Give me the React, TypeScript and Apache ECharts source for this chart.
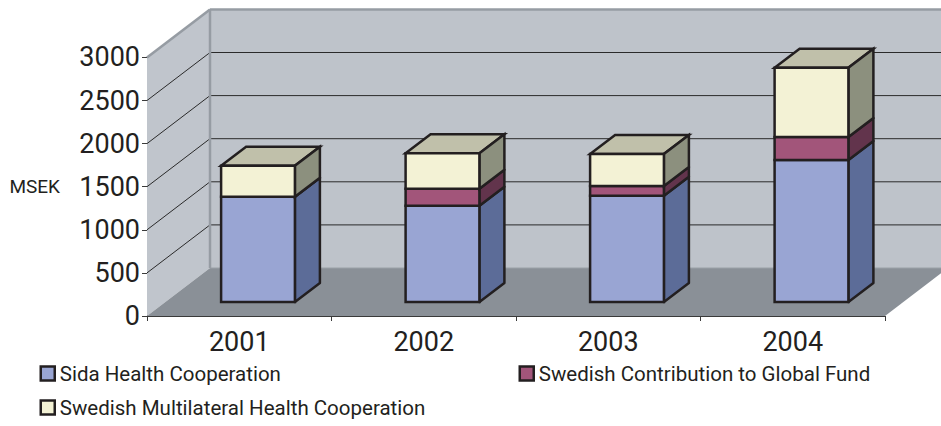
import React, { useEffect, useRef } from "react";
import * as echarts from "echarts";

const years = ["2001", "2002", "2003", "2004"];
const sidaHealth = [1222, 1117, 1233, 1647];
const globalFund = [0, 197, 113, 267];
const multilateral = [359, 411, 371, 804];
const yTicks = [500, 1000, 1500, 2000, 2500];

const FONT = "Roboto, 'Liberation Sans', sans-serif";
const INK = "#231f20";
// oblique projection constants of the pseudo-3D plot
const WALL_DX = 63;
const WALL_DY = 48;
const BAR_OFFSET_X = 18.75;
const BAR_OFFSET_Y = 14;
const BAR_DX = 25;
const BAR_DY = 19;

const names = [
  "Sida Health Cooperation",
  "Swedish Contribution to Global Fund",
  "Swedish Multilateral Health Cooperation",
];
const palette = [
  { front: "#99a5d3", side: "#5c6c98", top: "#7f8ab0" },
  { front: "#a2557a", side: "#62344c", top: "#7d4560" },
  { front: "#f3f2d5", side: "#8c907e", top: "#c0c0aa" },
];

function poly(points: number[][], fill: string, stroke?: string, lineWidth = 0, lineJoin = "miter") {
  return {
    type: "polygon",
    shape: { points },
    style: { fill, stroke: stroke || "none", lineWidth, lineJoin },
  };
}
function seg(a: number[], b: number[], stroke: string, lineWidth: number) {
  return {
    type: "line",
    shape: { x1: a[0], y1: a[1], x2: b[0], y2: b[1] },
    style: { stroke, lineWidth },
  };
}

function renderWalls(params: any, api: any) {
  const cs = params.coordSys;
  const l = cs.x;
  const r = cs.x + cs.width;
  const t = cs.y;
  const b = cs.y + cs.height;
  const edge = "#969ca3";
  const wall = "#bec3ca";
  const children: any[] = [
    poly([[l, b], [l, t], [l + WALL_DX, t - WALL_DY], [l + WALL_DX, b - WALL_DY]], "#c0c5cc"),
    poly([[l + WALL_DX, t - WALL_DY], [r + WALL_DX, t - WALL_DY], [r + WALL_DX, b - WALL_DY], [l + WALL_DX, b - WALL_DY]], wall),
    poly([[l, b], [r, b], [r + WALL_DX, b - WALL_DY], [l + WALL_DX, b - WALL_DY]], "#8a9097"),
    seg([l + WALL_DX, b - WALL_DY], [r + WALL_DX, b - WALL_DY], "#9aa0a7", 1),
  ];
  yTicks.forEach((v) => {
    const y = api.coord([0, v])[1];
    children.push(seg([l, y], [l + WALL_DX, y - WALL_DY], "#2a2a2a", 1));
    children.push(seg([l + WALL_DX, y - WALL_DY], [r + WALL_DX, y - WALL_DY], "#2a2a2a", 1));
  });
  children.push(seg([l, t], [l + WALL_DX, t - WALL_DY], edge, 2.5));
  children.push(seg([l + WALL_DX, t - WALL_DY], [r + WALL_DX, t - WALL_DY], edge, 2.5));
  children.push(seg([l + WALL_DX, t - WALL_DY], [l + WALL_DX, b - WALL_DY], edge, 2.5));
  return { type: "group", children };
}

function renderBar(colors: { front: string; side: string; top: string }, isTop: boolean) {
  return (_params: any, api: any) => {
    const cat = api.value(0);
    const start = api.value(1);
    const end = api.value(2);
    const w = api.size([1, 0])[0] / 2.5;
    const p0 = api.coord([cat, start]);
    const p1 = api.coord([cat, end]);
    const x0 = p0[0] + BAR_OFFSET_X - w / 2;
    const x1 = x0 + w;
    const yb = p0[1] - BAR_OFFSET_Y;
    const yt = p1[1] - BAR_OFFSET_Y;
    const s = { stroke: INK, w: 2.5 };
    const children: any[] = [
      poly([[x1, yb], [x1, yt], [x1 + BAR_DX, yt - BAR_DY], [x1 + BAR_DX, yb - BAR_DY]], colors.side, s.stroke, s.w, isTop ? "miter" : "round"),
      poly([[x0, yb], [x1, yb], [x1, yt], [x0, yt]], colors.front, s.stroke, s.w),
    ];
    if (isTop) {
      children.unshift(
        poly([[x0, yt], [x1, yt], [x1 + BAR_DX, yt - BAR_DY], [x0 + BAR_DX, yt - BAR_DY]], colors.top, s.stroke, s.w),
      );
    }
    return { type: "group", children };
  };
}

function stackRanges(levels: number[][], level: number) {
  return years.map((_, i) => {
    let start = 0;
    for (let k = 0; k < level; k++) start += levels[k][i];
    return [i, start, start + levels[level][i]];
  });
}

function legendAt(i: number, left: number, top: number) {
  return {
    left,
    top,
    padding: 0,
    itemWidth: 14,
    itemHeight: 14,
    selectedMode: false,
    textStyle: { fontFamily: FONT, fontSize: 20.5, color: INK },
    data: [
      {
        name: names[i],
        icon: "rect",
        itemStyle: { color: palette[i].front, borderColor: INK, borderWidth: 2.5 },
      },
    ],
  };
}

export default function App() {
  const ref = useRef<HTMLDivElement>(null);
  useEffect(() => {
    document.body.style.margin = "0";
    const chart = echarts.init(ref.current!, null, { renderer: "svg" });
    const levels = [sidaHealth, globalFund, multilateral];
    chart.setOption({
      animation: false,
      backgroundColor: "#ffffff",
      grid: { left: 147, right: 56, top: 57.4, bottom: 110, containLabel: false, outerBoundsMode: "none" },
      legend: [legendAt(0, 39.5, 363), legendAt(1, 518.5, 363), legendAt(2, 39.5, 397)],
      xAxis: {
        type: "category",
        data: years,
        boundaryGap: true,
        axisLine: { lineStyle: { color: "#3a3a3a", width: 1 } },
        axisTick: { show: true, alignWithLabel: false, length: 5, lineStyle: { color: "#3a3a3a" } },
        axisLabel: { fontFamily: FONT, fontSize: 27, color: INK, margin: 12, interval: 0 },
        splitLine: { show: false },
      },
      yAxis: {
        type: "value",
        min: 0,
        max: 3000,
        interval: 500,
        name: "MSEK",
        nameLocation: "middle",
        nameRotate: 0,
        nameGap: 87,
        nameTextStyle: { fontFamily: FONT, fontSize: 19, color: INK },
        axisLine: { show: true, lineStyle: { color: "#3a3a3a", width: 1 } },
        axisTick: { show: true, length: 5, lineStyle: { color: "#3a3a3a" } },
        axisLabel: { fontFamily: FONT, fontSize: 27, color: INK, margin: 7, padding: [2, 0, 0, 0], formatter: (v: number) => String(v) },
        splitLine: { show: false },
      },
      series: [
        {
          type: "custom",
          name: "walls",
          silent: true,
          clip: false,
          z: 1,
          renderItem: renderWalls,
          data: [[0, 0]],
          encode: { x: 0, y: 1 },
        },
        ...names.map((name, i) => ({
          type: "custom",
          name,
          clip: false,
          z: 2 + i,
          renderItem: renderBar(palette[i], i === names.length - 1),
          data: stackRanges(levels, i),
          encode: { x: 0, y: [1, 2] },
          itemStyle: { color: palette[i].front },
        })),
      ],
    });
    return () => chart.dispose();
  }, []);
  return <div ref={ref} style={{ width: 941, height: 426 }} />;
}
